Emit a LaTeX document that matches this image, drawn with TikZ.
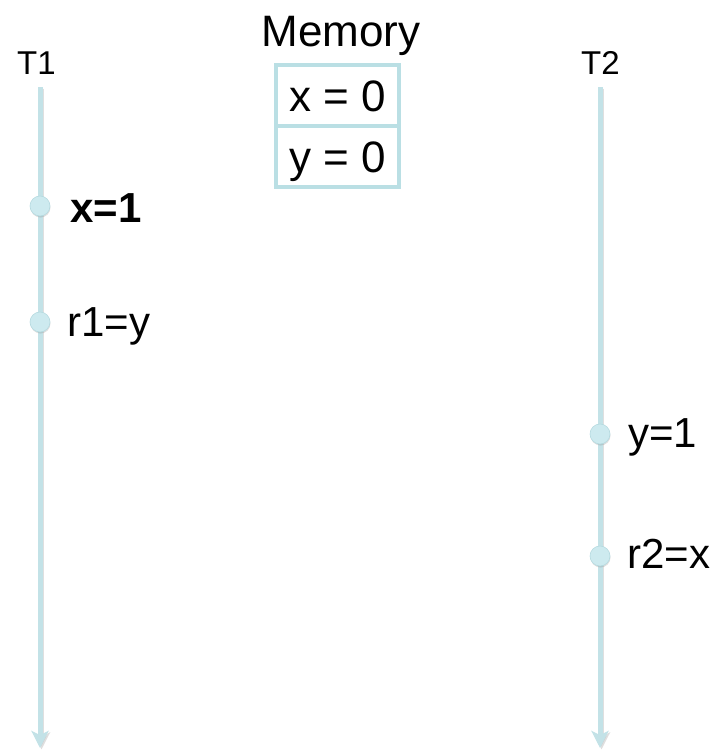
\documentclass[tikz,border=0pt]{standalone}
\usepackage{fontspec}
\setmainfont{Liberation Sans}
\usetikzlibrary{arrows.meta,shadows}
\definecolor{tl}{HTML}{C3E2E7}
\definecolor{dotfill}{HTML}{CDEAEF}
\definecolor{dotrim}{HTML}{B5DAE0}
\definecolor{boxline}{HTML}{BADFE4}
\tikzset{
  timeline/.style={line width=5pt, draw=tl, -{Stealth[length=17pt,width=17pt,inset=4pt]}},
  tlshadow/.style={line width=5pt, draw=black!25, opacity=0.5, -{Stealth[length=17pt,width=17pt,inset=4pt]}},
  evdot/.style={circle, minimum size=20pt, inner sep=0pt, fill=dotfill, draw=dotrim, line width=0.6pt,
    drop shadow={shadow xshift=0.5pt, shadow yshift=-1.5pt, opacity=0.25}},
  evlabel/.style={inner sep=0pt, anchor=base west, font=\fontsize{42}{50}\selectfont},
  thlabel/.style={inner sep=0pt, anchor=base west, font=\fontsize{33}{40}\selectfont},
  memcell/.style={draw=boxline, fill=white, line width=4pt, minimum width=123pt, minimum height=61pt, inner sep=0pt,
    text height=32pt, text depth=0pt, font=\fontsize{44}{52}\selectfont,
    drop shadow={shadow xshift=1pt, shadow yshift=-1.5pt, opacity=0.2}}
}
\begin{document}
\begin{tikzpicture}[x=1pt,y=-1pt]
\useasboundingbox (0,0) rectangle (719,750);
% thread labels
\node[thlabel] (t1lab) at (17,74) {T1};
\node[thlabel] (t2lab) at (581,74) {T2};
% timelines
\coordinate (t1top) at (40,87);
\coordinate (t1bot) at (40,748);
\coordinate (t2top) at (600,87);
\coordinate (t2bot) at (600,748);
\coordinate (t1stop) at (41.5,88.5);
\coordinate (t1sbot) at (41.5,749.5);
\coordinate (t2stop) at (601.5,88.5);
\coordinate (t2sbot) at (601.5,749.5);
\draw[tlshadow] (t1stop) -- (t1sbot);
\draw[tlshadow] (t2stop) -- (t2sbot);
\draw[timeline] (t1top) -- (t1bot);
\draw[timeline] (t2top) -- (t2bot);
% memory
\node[font=\fontsize{44}{52}\selectfont, inner sep=0pt, anchor=base] (memlab) at (341,46) {Memory};
\node[memcell] (xcell) at (337.5,95.5) {x = 0};
\node[memcell] (ycell) at (337.5,156.5) {y = 0};
% events T1
\node[evdot] (e1) at (40,206) {};
\node[evlabel, font=\fontsize{42}{50}\selectfont\bfseries] (l1) at (70,222) {x=1};
\node[evdot] (e2) at (40,322) {};
\node[evlabel] (l2) at (67,336) {r1=y};
% events T2
\node[evdot] (e3) at (600,434) {};
\node[evlabel] (l3) at (628,447) {y=1};
\node[evdot] (e4) at (600,556) {};
\node[evlabel] (l4) at (627,568) {r2=x};
\end{tikzpicture}
\end{document}
